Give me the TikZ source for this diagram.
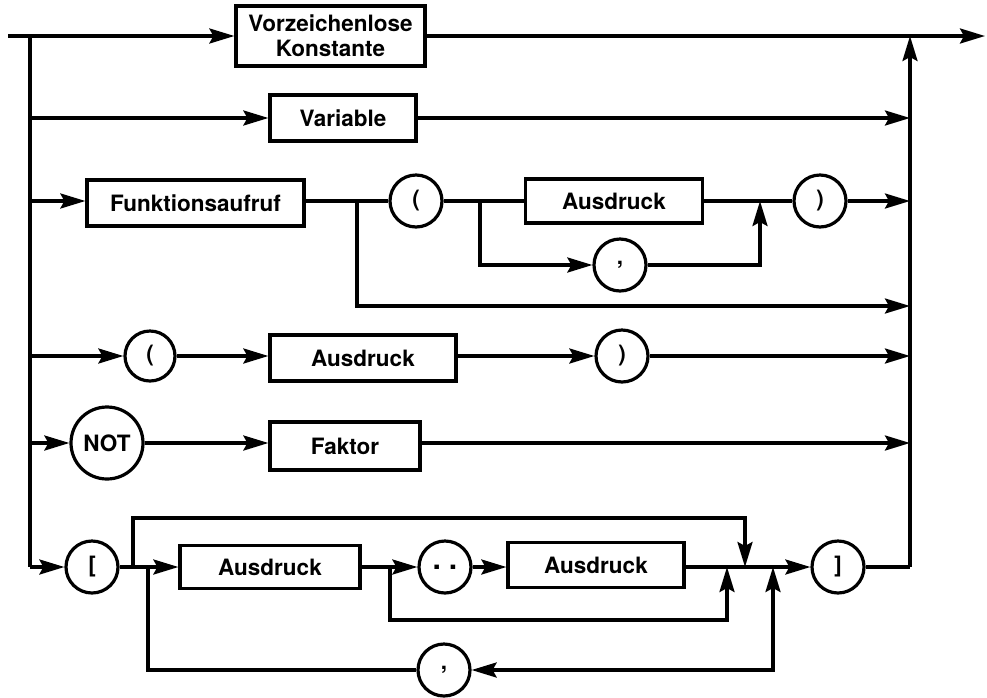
\documentclass[tikz,border=0pt]{standalone}
\usepackage{fontspec}
\setmainfont{TeX Gyre Heros}
\usetikzlibrary{arrows.meta}
\begin{document}
\begin{tikzpicture}[x=1pt,y=-1pt, line width=3.2pt,
  >={Stealth[length=25pt,width=15pt,inset=4pt]},
  box/.style={draw, rectangle, minimum height=46pt, inner sep=0pt,
    font=\fontsize{22.5}{25}\selectfont\bfseries, align=center},
  term/.style={draw, circle, minimum size=52pt, inner sep=0pt,
    font=\fontsize{22.5}{25}\selectfont\bfseries}]
\useasboundingbox (0,0) rectangle (987,697);
% nodes
\node[box, minimum width=189pt, minimum height=60pt] (konst) at (330.5,36) {Vorzeichenlose\\Konstante};
\node[box, minimum width=146pt] (var) at (343,118) {Variable};
\node[box, minimum width=217pt] (funk) at (195.5,203) {Funktionsaufruf};
\node[term] (lp1) at (416,201) {(};
\node[box, minimum width=177pt, minimum height=44pt] (aus1) at (614,201) {Ausdruck};
\node[term] (rp1) at (820,201) {)};
\node[term] (comma1) at (620,265) {,};
\node[term, minimum size=50pt] (lp2) at (150,356) {(};
\node[box, minimum width=186pt] (aus2) at (363,358) {Ausdruck};
\node[term] (rp2) at (622,356) {)};
\node[term, minimum size=72pt] (not) at (107,443) {NOT};
\node[box, minimum width=150pt, minimum height=48pt] (faktor) at (345,446) {Faktor};
\node[term] (lb) at (92,567) {[};
\node[box, minimum width=180pt, minimum height=43pt] (aus3) at (270,567) {Ausdruck};
\node[term, font=\fontsize{30}{30}\selectfont\bfseries] (dots) at (445,567) {.\hspace{8pt}.};
\node[box, minimum width=176pt, minimum height=45pt] (aus4) at (596,565) {Ausdruck};
\node[term] (rb) at (838,567) {]};
\node[term] (comma2) at (444,670) {,};
% junction coordinates
\coordinate (start) at (8,36);
\coordinate (L1) at (30,36);
\coordinate (L2) at (30,118);
\coordinate (L3) at (30,201);
\coordinate (L4) at (30,356);
\coordinate (L5) at (30,443);
\coordinate (L6) at (30,567);
\coordinate (R1) at (910,36);
\coordinate (R2) at (910,118);
\coordinate (R3) at (910,201);
\coordinate (R3b) at (910,306);
\coordinate (R4) at (910,356);
\coordinate (R5) at (910,443);
\coordinate (R6) at (910,567);
\coordinate (fin) at (985,36);
\coordinate (b3) at (357,201);
\coordinate (b3d) at (357,306);
\coordinate (c3a) at (480,201);
\coordinate (c3b) at (480,265);
\coordinate (m3) at (760,201);
\coordinate (m3b) at (760,265);
\coordinate (u1) at (133,567);
\coordinate (u1t) at (133,518);
\coordinate (u2t) at (745,518);
\coordinate (u2) at (745,567);
\coordinate (d1) at (148,567);
\coordinate (d1b) at (148,670);
\coordinate (k1) at (390,567);
\coordinate (k1b) at (390,620);
\coordinate (k2b) at (727,620);
\coordinate (k2) at (727,567);
\coordinate (g2) at (773,567);
\coordinate (g2b) at (773,670);
% main rails
\draw[->] (start) -- (konst);
\draw[->] (konst) -- (fin);
\draw (L1) -- (L6);
\draw[->] (R6) -- (R1);
% row 2
\draw[->] (L2) -- (var);
\draw[->] (var) -- (R2);
% row 3
\draw[->] (L3) -- (funk.west |- L3);
\draw (funk.east |- L3) -- (lp1);
\draw (lp1) -- (aus1);
\draw (aus1) -- (rp1);
\draw[->] (rp1) -- (R3);
\draw[->] (c3a) -- (c3b) -- (comma1);
\draw[->] (comma1) -- (m3b) -- (m3);
\draw[->] (b3) -- (b3d) -- (R3b);
% row 4
\draw[->] (L4) -- (lp2);
\draw[->] (lp2) -- (aus2.west |- L4);
\draw[->] (aus2.east |- L4) -- (rp2);
\draw[->] (rp2) -- (R4);
% row 5
\draw[->] (L5) -- (not);
\draw[->] (not) -- (faktor.west |- L5);
\draw[->] (faktor.east |- L5) -- (R5);
% row 6
\draw[->] (L6) -- (lb);
\draw[->] (lb) -- (aus3);
\draw[->] (u1) -- (u1t) -- (u2t) -- (u2);
\draw (d1) -- (d1b) -- (comma2);
\draw[<->] (comma2) -- (g2b) -- (g2);
\draw[->] (aus3) -- (dots);
\draw[->] (k1) -- (k1b) -- (k2b) -- (k2);
\draw[->] (dots) -- (aus4.west |- L6);
\draw[->] (aus4.east |- L6) -- (rb);
\draw (rb) -- (R6);
\end{tikzpicture}
\end{document}
